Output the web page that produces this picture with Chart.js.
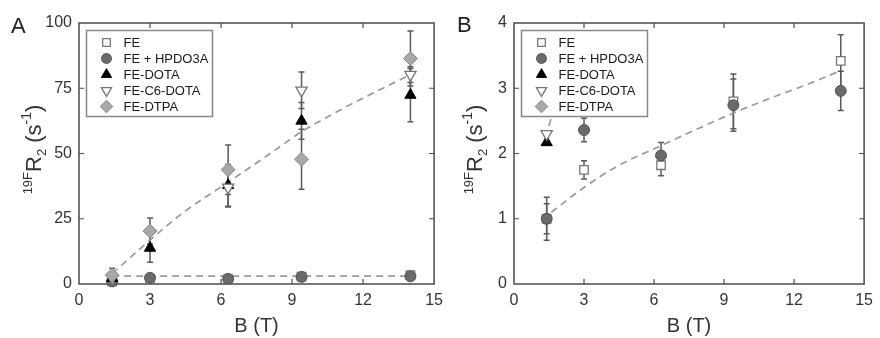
<!DOCTYPE html>
<html><head><meta charset="utf-8">
<script src="https://cdn.jsdelivr.net/npm/chart.js@4/dist/chart.umd.min.js"></script>
<style>
html,body{margin:0;padding:0;background:#fff;}
#wrap{position:relative;width:880px;height:338px;overflow:hidden;}
.panel{position:absolute;top:0;height:338px;}
</style></head><body>
<div id="wrap">
<div class="panel" style="left:0;width:450px"><canvas id="cA" width="450" height="338"></canvas></div>
<div class="panel" style="left:440px;width:440px"><canvas id="cB" width="440" height="338"></canvas></div>
</div>
<script>
// ---------------- data ----------------
const fieldsT = [1.4, 3, 6.3, 9.4, 14];
const seriesNames = ['FE', 'FE + HPDO3A', 'FE-DOTA', 'FE-C6-DOTA', 'FE-DTPA'];
const feR2 = [1.0, 1.75, 1.82, 2.8, 3.42];
const feErr = [0.33, 0.14, 0.16, 0.42, 0.40];
const hpdo3aR2 = [1.0, 2.36, 1.97, 2.74, 2.96];
const hpdo3aErr = [0.23, 0.18, 0.2, 0.4, 0.3];
const dotaR2 = [2.17, 13.8, 37.8, 62.5, 72.4];
const dotaErr = [0.05, 5.5, 8, 7, 10.2];
const c6dotaR2 = [2.3, null, 37, 74.2, 80.2];
const c6dotaErr = [0.05, null, 7.5, 7, 3];
const dtpaR2 = [3.4, 20.3, 43.8, 47.8, 86.4];
const dtpaErr = [2.6, 5, 9.5, 11.5, 10.5];
// dashed fit curves
const fitUpperAx = [1.4, 3, 4.5, 6.3, 8, 9.4, 11, 12.5, 14];
const fitUpperAy = [4, 16.8, 28, 39, 49.5, 58.3, 66.5, 73.5, 80.2];
const fitLowerAx = [1.4, 14];
const fitLowerAy = [3.0, 3.0];
const fitBx = [1.6, 3, 4.5, 6.3, 8, 9.4, 11, 12.5, 14];
const fitBy = [1.1, 1.48, 1.82, 2.12, 2.4, 2.62, 2.85, 3.05, 3.27];
const fitUpperBx = [1.5, 1.65];
const fitUpperBy = [2.42, 2.62];
// axes
const xTicks = [0, 3, 6, 9, 12, 15];
const yTicksA = [0, 25, 50, 75, 100];
const yTicksB = [0, 1, 2, 3, 4];
const xTitle = 'B (T)';
const panelLabels = ['A', 'B'];

// ---------------- helpers ----------------
const FONT = '"Liberation Sans", Arial, Helvetica, sans-serif';
Chart.defaults.font.family = FONT;
const pts = (xs, ys) => xs.map((x, i) => ({x: x, y: ys[i]})).filter(p => p.y !== null && p.y !== undefined);

const styles = [
  {pointStyle: 'rect', pointRadius: 6, pointRotation: 0, backgroundColor: '#ffffff', borderColor: '#777777', pointBorderWidth: 1.3},
  {pointStyle: 'circle', pointRadius: 5.5, pointRotation: 0, backgroundColor: '#6a6a6a', borderColor: '#555555', pointBorderWidth: 1},
  {pointStyle: 'triangle', pointRadius: 6.5, pointRotation: 0, backgroundColor: '#000000', borderColor: '#000000', pointBorderWidth: 1},
  {pointStyle: 'triangle', pointRadius: 6.5, pointRotation: 180, backgroundColor: '#ffffff', borderColor: '#777777', pointBorderWidth: 1.3},
  {pointStyle: 'rectRot', pointRadius: 7, pointRotation: 0, backgroundColor: '#a8a8a8', borderColor: '#8a8a8a', pointBorderWidth: 1}
];
const values = [feR2, hpdo3aR2, dotaR2, c6dotaR2, dtpaR2];
const errors = [feErr, hpdo3aErr, dotaErr, c6dotaErr, dtpaErr];
const drawOrder = [5, 4, 3, 2, 1];

function markerDatasets(errSet) {
  return seriesNames.map((name, i) => Object.assign({
    label: name,
    data: pts(fieldsT, values[i]),
    errors: errors[i].filter((e, k) => values[i][k] !== null),
    showErrors: errSet.includes(i),
    inLegend: true,
    showLine: false,
    order: drawOrder[i],
    clip: {left: 8, right: 8, top: 0, bottom: 8}
  }, styles[i]));
}
function fitDataset(xs, ys) {
  return {
    label: 'fit', data: pts(xs, ys), showLine: true, pointRadius: 0, borderColor: '#9a9a9a',
    borderWidth: 1.7, borderDash: [7, 5], fill: false, cubicInterpolationMode: 'monotone', order: 10, inLegend: false
  };
}

// ---------------- plugins ----------------
const frameTicks = {
  id: 'frameTicks',
  beforeDatasetsDraw(chart) {
    const {ctx, chartArea: a, scales: {x, y}} = chart;
    ctx.save();
    ctx.strokeStyle = '#4a4a4a'; ctx.lineWidth = 1.5;
    ctx.strokeRect(a.left, a.top, a.right - a.left, a.bottom - a.top);
    ctx.lineWidth = 1.2;
    const L = 5;
    ctx.beginPath();
    x.ticks.forEach(t => {
      if (t.value <= x.min || t.value >= x.max) return;
      const p = x.getPixelForValue(t.value);
      ctx.moveTo(p, a.bottom); ctx.lineTo(p, a.bottom - L);
      ctx.moveTo(p, a.top); ctx.lineTo(p, a.top + L);
    });
    y.ticks.forEach(t => {
      if (t.value <= y.min || t.value >= y.max) return;
      const p = y.getPixelForValue(t.value);
      ctx.moveTo(a.left, p); ctx.lineTo(a.left + L, p);
      ctx.moveTo(a.right, p); ctx.lineTo(a.right - L, p);
    });
    ctx.stroke();
    ctx.restore();
  }
};
const errorBars = {
  id: 'errorBars',
  beforeDatasetsDraw(chart) {
    const {ctx, chartArea: a, scales: {x, y}} = chart;
    ctx.save();
    ctx.beginPath(); ctx.rect(a.left, a.top, a.right - a.left, a.bottom - a.top + 4); ctx.clip();
    ctx.strokeStyle = '#5a5a5a'; ctx.lineWidth = 1.5;
    chart.data.datasets.forEach(ds => {
      if (!ds.errors || !ds.showErrors) return;
      ds.data.forEach((pt, i) => {
        const e = ds.errors[i];
        if (e === null || e === undefined) return;
        const px = x.getPixelForValue(pt.x);
        const yt = y.getPixelForValue(pt.y + e), yb = y.getPixelForValue(pt.y - e);
        ctx.beginPath();
        ctx.moveTo(px, yt); ctx.lineTo(px, yb);
        ctx.moveTo(px - 3, yt); ctx.lineTo(px + 3, yt);
        ctx.moveTo(px - 3, yb); ctx.lineTo(px + 3, yb);
        ctx.stroke();
      });
    });
    ctx.restore();
  }
};
const boxLegend = {
  id: 'boxLegend',
  afterDatasetsDraw(chart, args, o) {
    const {ctx, chartArea: a} = chart;
    const bx = a.left + o.dx, by = a.top + o.dy;
    ctx.save();
    ctx.fillStyle = '#fff'; ctx.strokeStyle = '#888'; ctx.lineWidth = 1.5;
    ctx.fillRect(bx, by, o.w, o.h); ctx.strokeRect(bx, by, o.w, o.h);
    let row = 0;
    chart.data.datasets.forEach(ds => {
      if (!ds.inLegend) return;
      const cy = by + o.firstRow + row * o.rowH;
      ctx.fillStyle = ds.backgroundColor; ctx.strokeStyle = ds.borderColor; ctx.lineWidth = ds.pointBorderWidth;
      Chart.helpers.drawPoint(ctx, {pointStyle: ds.pointStyle, radius: ds.pointRadius * 0.9, rotation: ds.pointRotation, borderWidth: ds.pointBorderWidth}, bx + o.markerX, cy);
      ctx.fillStyle = '#1a1a1a'; ctx.font = '13px ' + FONT; ctx.textBaseline = 'middle'; ctx.textAlign = 'left';
      ctx.fillText(ds.label, bx + o.textX, cy + 0.5);
      row++;
    });
    ctx.restore();
  }
};
const yTitleAndLabel = {
  id: 'yTitleAndLabel',
  afterDraw(chart, args, o) {
    const {ctx, chartArea: a} = chart;
    const parts = [
      {t: '19F', s: 13, dy: -9}, {t: 'R', s: 22, dy: 0}, {t: '2', s: 13, dy: 5},
      {t: ' (s', s: 22, dy: 0}, {t: '-1', s: 14, dy: -10}, {t: ')', s: 22, dy: 0}
    ];
    ctx.save();
    ctx.fillStyle = '#333';
    let total = 0;
    parts.forEach(p => { ctx.font = p.s + 'px ' + FONT; p.w = ctx.measureText(p.t).width; total += p.w; });
    ctx.translate(o.x, (a.top + a.bottom) / 2 + o.dy);
    ctx.rotate(-Math.PI / 2);
    ctx.textBaseline = 'alphabetic'; ctx.textAlign = 'left';
    let cx = -total / 2;
    parts.forEach(p => { ctx.font = p.s + 'px ' + FONT; ctx.fillText(p.t, cx, p.dy); cx += p.w; });
    ctx.restore();
    ctx.save();
    ctx.fillStyle = '#222'; ctx.font = '22px ' + FONT; ctx.textBaseline = 'alphabetic';
    ctx.fillText(o.label, o.lx, o.ly);
    ctx.restore();
  }
};

function makeChart(id, datasets, yMin, yMax, yTicks, pad, yWidth, extra) {
  return new Chart(document.getElementById(id), {
    type: 'scatter',
    data: {datasets: datasets},
    plugins: [frameTicks, errorBars, boxLegend, yTitleAndLabel],
    options: {
      responsive: false, animation: false, devicePixelRatio: 1, events: [],
      layout: {padding: pad, autoPadding: false},
      plugins: {
        legend: {display: false}, tooltip: {enabled: false},
        boxLegend: {dx: 7.5, dy: 7.5, w: 126, h: 86, firstRow: 12, rowH: 16, markerX: 20, textX: 37},
        yTitleAndLabel: extra
      },
      scales: {
        x: {
          type: 'linear', min: xTicks[0], max: xTicks[xTicks.length - 1],
          afterBuildTicks: s => { s.ticks = xTicks.map(v => ({value: v})); },
          ticks: {color: '#333', font: {size: 16}, padding: 7, maxRotation: 0},
          grid: {display: false, drawTicks: false}, border: {display: false},
          title: {display: true, text: xTitle, color: '#333', font: {size: 20}, padding: {top: 0, bottom: 0}},
          afterFit: s => { s.height = 54; }
        },
        y: {
          type: 'linear', min: yMin, max: yMax,
          afterBuildTicks: s => { s.ticks = yTicks.map(v => ({value: v})); },
          ticks: {color: '#333', font: {size: 16}, padding: 7},
          grid: {display: false, drawTicks: false}, border: {display: false},
          afterFit: s => { s.width = yWidth; }
        }
      }
    }
  });
}

const dsA = markerDatasets([0, 1, 2, 3, 4]).concat([fitDataset(fitUpperAx, fitUpperAy), fitDataset(fitLowerAx, fitLowerAy)]);
makeChart('cA', dsA, yTicksA[0], yTicksA[yTicksA.length - 1], yTicksA, {left: 0, right: 15, top: 23, bottom: 0}, 79,
  {x: 41, dy: -4, label: panelLabels[0], lx: 11, ly: 33});

const dsB = markerDatasets([0, 1]).concat([fitDataset(fitBx, fitBy), fitDataset(fitUpperBx, fitUpperBy)]);
makeChart('cB', dsB, yTicksB[0], yTicksB[yTicksB.length - 1], yTicksB, {left: 0, right: 8, top: 23, bottom: 0}, 74,
  {x: 42, dy: -4, label: panelLabels[1], lx: 17, ly: 32});
</script>
</body></html>
